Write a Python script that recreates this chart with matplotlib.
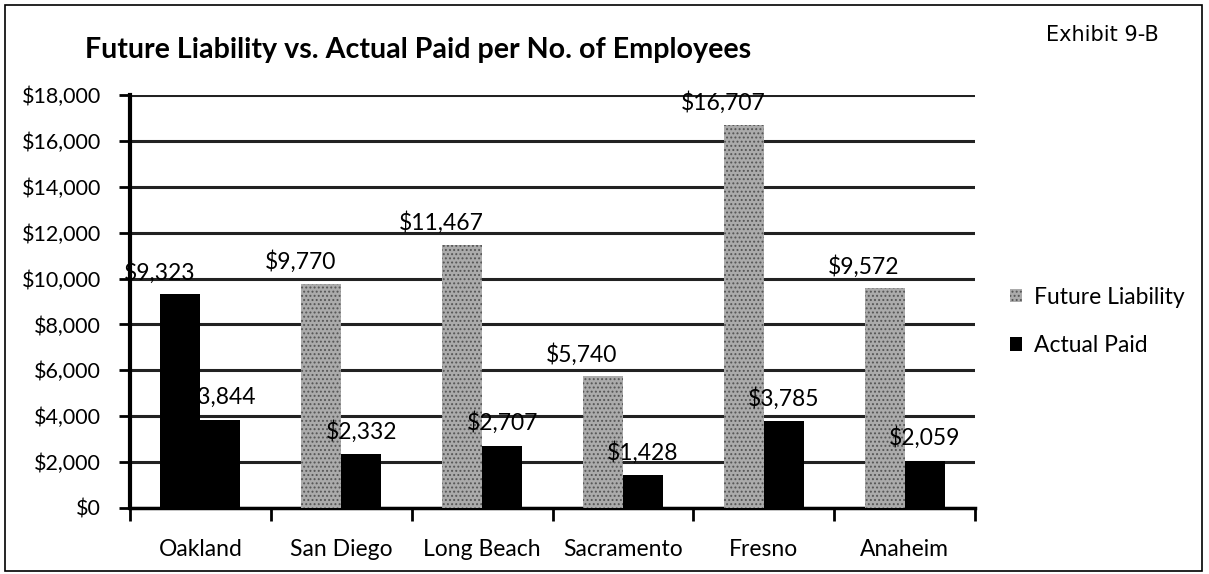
import matplotlib
matplotlib.use("Agg")
import matplotlib.pyplot as plt
from matplotlib.patches import Rectangle
import numpy as np

cities = ["Oakland", "San Diego", "Long Beach", "Sacramento", "Fresno", "Anaheim"]
future_liability = [9323, 9770, 11467, 5740, 16707, 9572]
actual_paid = [3844, 2332, 2707, 1428, 3785, 2059]
yticks = list(range(0, 18001, 2000))

plt.rcParams["font.family"] = ["Lato", "DejaVu Sans"]
plt.rcParams["hatch.color"] = "#555555"
plt.rcParams["hatch.linewidth"] = 0.9

fig = plt.figure(figsize=(12.09, 5.74), dpi=100)
ax = fig.add_axes([0.1075, 0.115, 0.699, 0.7195])

x = np.arange(len(cities))
w = 0.284
gray = "#ababab"
# the scanned original shows Oakland's first bar as solid black
fl_colors = ["black"] + [gray] * (len(cities) - 1)
fl_bars = ax.bar(x - w / 2, future_liability, w, color=fl_colors, hatch="....",
                 edgecolor="#555555", linewidth=0, zorder=3, label="Future Liability")
fl_bars[0].set_hatch(None)
ap_bars = ax.bar(x + w / 2, actual_paid, w, color="black", linewidth=0,
                 zorder=3, label="Actual Paid")

for xi, v in zip(x, future_liability):
    ax.annotate(f"${v:,}", (xi - w / 2, v), xytext=(-21, 22), textcoords="offset pixels",
                ha="center", va="center", fontsize=16.5, zorder=5)
for xi, v in zip(x, actual_paid):
    ax.annotate(f"${v:,}", (xi + w / 2, v), xytext=(0, 23), textcoords="offset pixels",
                ha="center", va="center", fontsize=16.5, zorder=5)

ax.set_xlim(-0.5, len(cities) - 0.5)
ax.set_ylim(0, 18000)
ax.set_yticks(yticks)
ax.set_yticklabels([f"${t:,}" for t in yticks], fontsize=15.5)
ax.set_xticks(x)
ax.set_xticklabels(cities, fontsize=16.5)
ax.set_xticks(np.arange(-0.5, len(cities)), minor=True)
ax.tick_params(axis="x", which="major", length=0, pad=22)
ax.tick_params(axis="x", which="minor", length=9, width=2, direction="out")
ax.tick_params(axis="y", length=8, width=2, direction="out", pad=13)

ax.grid(axis="y", color="#222222", linewidth=2.2, zorder=0)
ax.set_axisbelow(True)
for s in ["top", "right"]:
    ax.spines[s].set_visible(False)
ax.spines["left"].set_linewidth(3)
ax.spines["bottom"].set_linewidth(2.5)

fig.text(0.07, 0.913, "Future Liability vs. Actual Paid per No. of Employees",
         fontsize=20.6, fontweight="bold", va="center")
fig.text(0.912, 0.939, "Exhibit 9-B", fontsize=15, family="DejaVu Sans", ha="center", va="center")

leg = fig.legend(handles=[fl_bars[1], ap_bars[0]], labels=["Future Liability", "Actual Paid"],
                 loc="center left", bbox_to_anchor=(0.818, 0.44), frameon=False,
                 fontsize=16.5, handlelength=0.55, handleheight=0.55, handletextpad=0.5,
                 labelspacing=1.2)

fig.patches.append(Rectangle((0.004, 0.006), 0.99, 0.986, transform=fig.transFigure,
                             fill=False, edgecolor="black", linewidth=1.2))

fig.savefig("out.png", dpi=100)
